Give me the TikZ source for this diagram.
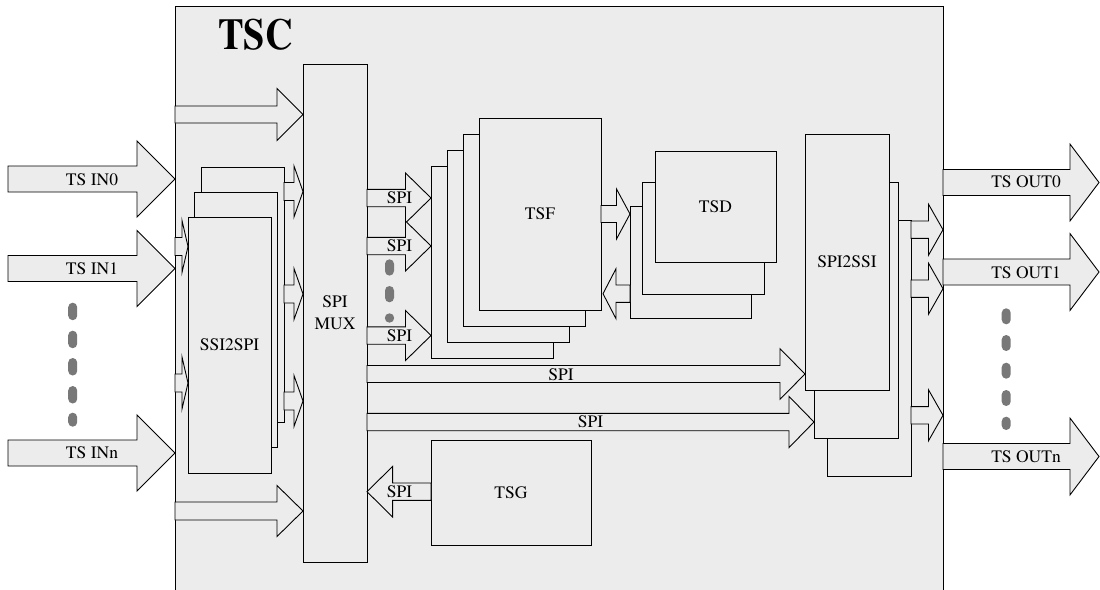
\documentclass[tikz,border=0pt]{standalone}
\usepackage{fontspec}
\setmainfont{texgyretermes}[Extension=.otf, UprightFont=*-regular, BoldFont=*-bold]
\usepackage{graphicx}
\usepackage{tikz}
\usetikzlibrary{calc}
\definecolor{blockfill}{RGB}{236,236,236}
\definecolor{dotgray}{RGB}{120,120,120}
\tikzset{
  unit/.style={
    draw, fill=blockfill, line width=0.9pt, inner sep=0pt, outer sep=0pt,
    anchor=north west, align=center, font=\rmfamily\fontsize{17.5}{22}\selectfont
  },
  size/.style 2 args={minimum width=#1pt, minimum height=#2pt},
  blockarrow/.style={draw, fill=blockfill, line width=0.9pt, line join=miter},
  tag/.style={inner sep=0pt, font=\rmfamily\fontsize{17.5}{21}\selectfont},
  pill/.style={fill=dotgray, rounded corners=4.5pt},
}
% hollow block arrow: start, tip, shaft half width, head half width, head length
\newcommand\fatarrow[5]{%
  \draw[blockarrow] let \p1=#1, \p2=#2, \p3=($#2-(#5,0)$) in
    (\x1,\y2+#3pt) -- (\x3,\y2+#3pt) -- (\x3,\y2+#4pt) -- (\p2)
    -- (\x3,\y2-#4pt) -- (\x3,\y2-#3pt) -- (\x1,\y2-#3pt) -- cycle;}

\begin{document}
\begin{tikzpicture}[x=1pt, y=-1pt]
  \useasboundingbox (0,0) rectangle (1100,589);

  % outer block
  \node[unit, size={768}{600}] (tsc) at (175,6) {};
  \node[inner sep=0pt, font=\rmfamily\fontsize{44}{46}\selectfont\bfseries] (title) at (255.5,35) {\scalebox{0.87}[1]{TSC}};

  % units
  \node[unit, size={64}{498}] (mux) at (303,64) {SPI\\MUX};

  \node[unit, size={83}{255}] (ssiB) at (201,167) {};
  \node[unit, size={83}{255}] (ssiM) at (194,192) {};
  \node[unit, size={83}{256}] (ssi) at (188,217) {SSI2SPI};

  \node[unit, size={122}{192}] (tsf4) at (431,166) {};
  \node[unit, size={122}{192}] (tsf3) at (447,150) {};
  \node[unit, size={122}{192}] (tsf2) at (463,134) {};
  \node[unit, size={122}{192}] (tsf) at (479,118) {TSF};

  \node[unit, size={121}{112}] (tsdB) at (630,206) {};
  \node[unit, size={122}{112}] (tsdM) at (642,182) {};
  \node[unit, size={121}{111}] (tsd) at (655,151) {TSD};

  \node[unit, size={84}{256}] (spiB) at (827,220) {};
  \node[unit, size={84}{256}] (spiM) at (814,182) {};
  \node[unit, size={84}{256}] (spi) at (805,134) {SPI2SSI};

  \node[unit, size={160}{105}] (tsg) at (431,440) {TSG};

  % free ends
  \coordinate (in0) at (8,179);
  \coordinate (in1) at (8,268.5);
  \coordinate (inn) at (8,453);
  \coordinate (out0) at (1099,182.5);
  \coordinate (out1) at (1099,272);
  \coordinate (outn) at (1099,456.5);
  \coordinate (back) at ($(tsf.east |- 0,293.7)+(2,0)$);

  % inputs
  \fatarrow{(in0)}{(tsc.west |- in0)}{13}{38}{38}
  \fatarrow{(in1)}{(tsc.west |- in1)}{13}{38}{38}
  \fatarrow{(inn)}{(tsc.west |- inn)}{13}{38}{38}
  \fatarrow{(tsc.west |- 0,114.5)}{(mux.west |- 0,114.5)}{8.5}{26}{26}
  \fatarrow{(tsc.west |- 0,511)}{(mux.west |- 0,511)}{9}{25.5}{26}

  % ssi2spi
  \fatarrow{(tsc.west |- 0,246.5)}{(ssi.west |- 0,246.5)}{9}{26}{6}
  \fatarrow{(tsc.west |- 0,383)}{(ssi.west |- 0,383)}{9}{26}{6}
  \fatarrow{(ssiB.east |- 0,191.5)}{(mux.west |- 0,191.5)}{9}{25.5}{9}
  \fatarrow{(ssiB.east |- 0,294)}{(mux.west |- 0,294)}{9}{25.5}{9}
  \fatarrow{(ssiB.east |- 0,401)}{(mux.west |- 0,401)}{9}{25.5}{9}

  % mux to filters
  \fatarrow{(mux.east |- 0,198)}{(tsf4.west |- 0,198)}{8.7}{25}{25.5}
  \fatarrow{(mux.east |- 0,246)}{(tsf4.west |- 0,246)}{8.7}{25}{25.5}
  \fatarrow{(mux.east |- 0,335.5)}{(tsf4.west |- 0,335.5)}{8.7}{25}{25.5}
  \fatarrow{(tsf.east |- 0,214)}{(tsdB.west |- 0,214)}{8.5}{25}{13.5}
  \fatarrow{(tsdB.west |- back)}{(back)}{8.7}{25}{-13}

  % mux to spi2ssi, tsg to mux
  \fatarrow{(mux.east |- 0,374)}{(spi.west |- 0,374)}{8.5}{25.3}{25}
  \fatarrow{(mux.east |- 0,422)}{(spiM.west |- 0,422)}{8.7}{25.6}{25}
  \fatarrow{(tsg.west |- 0,491.7)}{(mux.east |- 0,491.7)}{8.7}{25.3}{-25.6}

  % outputs
  \fatarrow{(spiB.east |- 0,229.7)}{(tsc.east |- 0,229.7)}{8.7}{25.5}{14.5}
  \fatarrow{(spiB.east |- 0,288.7)}{(tsc.east |- 0,288.7)}{8.7}{25.5}{14.5}
  \fatarrow{(spiB.east |- 0,415.3)}{(tsc.east |- 0,415.3)}{8.7}{25.5}{14.5}
  \fatarrow{(tsc.east |- out0)}{(out0)}{13}{38.4}{29}
  \fatarrow{(tsc.east |- out1)}{(out1)}{13}{38.4}{29}
  \fatarrow{(tsc.east |- outn)}{(outn)}{13}{38.4}{29}

  % labels
  \node[tag] (lin0) at (92,180) {TS IN0};
  \node[tag] (lin1) at (92,269) {TS IN1};
  \node[tag] (linn) at (92,453) {TS INn};
  \node[tag] (lout0) at (1026,182) {TS OUT0};
  \node[tag] (lout1) at (1026,272.5) {TS OUT1};
  \node[tag] (loutn) at (1026,456.5) {TS OUTn};
  \node[tag] (lspi1) at (399.5,198) {SPI};
  \node[tag] (lspi2) at (399.5,246) {SPI};
  \node[tag] (lspi3) at (399.5,335.5) {SPI};
  \node[tag] (lspi4) at (561,375) {SPI};
  \node[tag] (lspi5) at (590.5,422) {SPI};
  \node[tag] (lspi6) at (399.5,491.5) {SPI};

  % dots
  \foreach \y in {302.7,330.7,358,386}
    \fill[pill] (68.2,\y) rectangle ++(9,17.5);
  \fill[pill] (68.2,412.7) rectangle ++(9,14);
  \foreach \y in {308.3,335,362.7,390}
    \fill[pill] (1001.7,\y) rectangle ++(9,16);
  \fill[pill] (1001.7,416.7) rectangle ++(9,13.3);
  \foreach \y in {259.3,286}
    \fill[pill] (385,\y) rectangle ++(9,16.3);
  \fill[dotgray] (389.5,318) circle (4.7);
\end{tikzpicture}
\end{document}
